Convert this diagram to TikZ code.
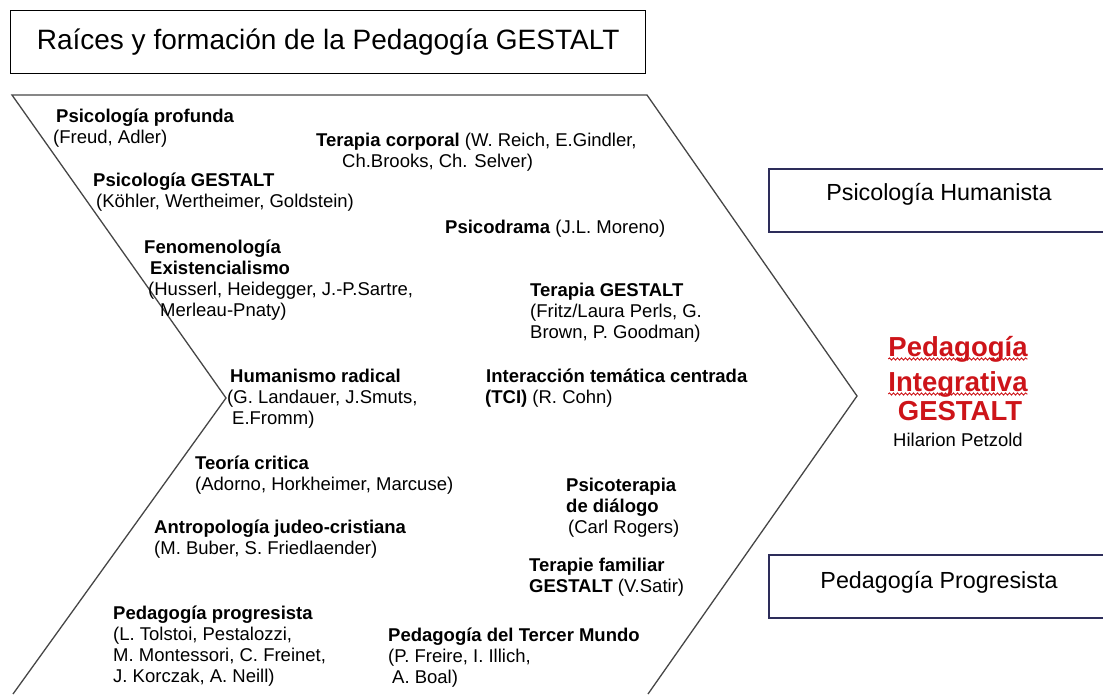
\documentclass[tikz,border=0pt]{standalone}
\usepackage{fontspec}
\setmainfont{Liberation Sans}
\usetikzlibrary{decorations.pathmorphing}
\definecolor{pigred}{RGB}{205,20,25}
\definecolor{boxnavy}{RGB}{45,45,90}
\definecolor{edgegray}{RGB}{70,70,70}
\newcommand{\blk}[1]{\begin{tabular}[t]{@{}l@{}}#1\end{tabular}}

\begin{document}
\begin{tikzpicture}[x=1pt, y=-1pt,
        txt/.style={anchor=base west, inner sep=0pt, font=\fontsize{18.5}{21}\selectfont},
        side/.style={anchor=base, inner sep=0pt, font=\fontsize{23.3}{27}\selectfont},
        pigtxt/.style={anchor=base, inner sep=0pt, text=pigred, font=\fontsize{27.5}{32}\selectfont\bfseries},
        wavy/.style={pigred, line width=0.9pt, decorate, decoration={snake, amplitude=1.1pt, segment length=4pt}},
        edge/.style={edgegray, line width=1.3pt},
        sidebox/.style={boxnavy, line width=1.3pt}]
    \useasboundingbox (0,0) rectangle (1103,694);

    % title
    \node[draw, line width=1.3pt, anchor=north west, minimum width=635pt, minimum height=63pt,
          font=\fontsize{28}{32}\selectfont]
        (title) at (10,10) {Raíces y formación de la Pedagogía GESTALT};

    % the arrow
    \draw[edge] (13,694) -- (226,398) -- (12,95) -- (647,95) -- (857,396) -- (648,694);

    % roots, left column
    \node[txt] (pprof) at (53,122) {\blk{\hspace{3pt}\textbf{Psicología profunda}\\(Freud, Adler)}};
    \node[txt] (pgest) at (93,186) {\blk{\textbf{Psicología GESTALT}\\\hspace{3pt}(Köhler, Wertheimer, Goldstein)}};
    \node[txt] (feno) at (144,253) {\blk{\textbf{Fenomenología}\\\hspace{6pt}\textbf{Existencialismo}\\
        \hspace{4pt}(Husserl, Heidegger, J.-P.Sartre,\\\hspace{16pt}Merleau-Pnaty)}};
    \node[txt] (hrad) at (227,382) {\blk{\hspace{3pt}\textbf{Humanismo radical}\\(G. Landauer, J.Smuts,\\\hspace{5pt}E.Fromm)}};
    \node[txt] (tcrit) at (195,469) {\blk{\textbf{Teoría critica}\\(Adorno, Horkheimer, Marcuse)}};
    \node[txt] (antro) at (154,533) {\blk{\textbf{Antropología judeo-cristiana}\\(M. Buber, S. Friedlaender)}};
    \node[txt] (pprog) at (113,619) {\blk{\textbf{Pedagogía progresista}\\(L. Tolstoi, Pestalozzi,\\
        M. Montessori, C. Freinet,\\J. Korczak, A. Neill)}};

    % roots, right column
    \node[txt] (tcorp) at (316,146) {\blk{\textbf{Terapia corporal} (W. Reich, E.Gindler,\\\hspace{26pt}Ch.Brooks, Ch. Selver)}};
    \node[txt] (psdra) at (445,233) {\textbf{Psicodrama} (J.L. Moreno)};
    \node[txt] (tgest) at (530,296) {\blk{\textbf{Terapia GESTALT}\\(Fritz/Laura Perls, G.\\Brown, P. Goodman)}};
    \node[txt] (itc) at (485,382) {\blk{\hspace{1pt}\textbf{Interacción temática centrada}\\\textbf{(TCI)} (R. Cohn)}};
    \node[txt] (pdial) at (566,491) {\blk{\textbf{Psicoterapia}\\\textbf{de diálogo}\\\hspace{2pt}(Carl Rogers)}};
    \node[txt] (tfam) at (529,571) {\blk{\textbf{Terapie familiar}\\\textbf{GESTALT} (V.Satir)}};
    \node[txt] (ptm) at (388,641) {\blk{\textbf{Pedagogía del Tercer Mundo}\\(P. Freire, I. Illich,\\\hspace{4pt}A. Boal)}};

    % side boxes
    \draw[sidebox] (1110,169) -| (769,232) -- (1110,232);
    \node[side] (humpsi) at (939,200) {Psicología Humanista};
    \draw[sidebox] (1110,555) -| (769,618) -- (1110,618);
    \node[side] (progped) at (939,588) {Pedagogía Progresista};

    % result
    \node[pigtxt] (ped) at (958,356) {Pedagogía};
    \node[pigtxt] (integ) at (958,391) {Integrativa};
    \node[pigtxt] (gest) at (960,420) {GESTALT};
    \node[txt, anchor=base] (hila) at (958,446) {Hilarion Petzold};
    \draw[wavy] ([yshift=-3pt]ped.base west) -- ([yshift=-3pt]ped.base east);
    \draw[wavy] ([yshift=-3pt]integ.base west) -- ([yshift=-3pt]integ.base east);
\end{tikzpicture}
\end{document}
